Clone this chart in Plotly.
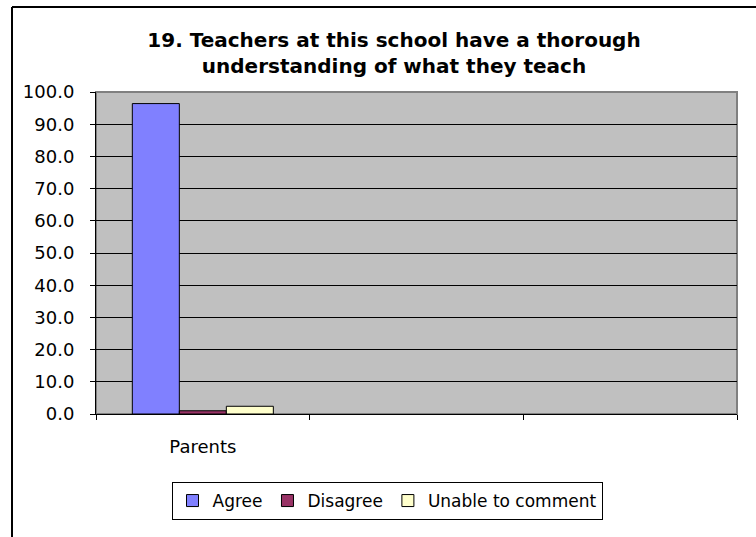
import plotly.graph_objects as go

categories = ["Parents", " ", "  "]
series_names = ["Agree", "Disagree", "Unable to comment"]
agree = [96.4, None, None]
disagree = [1.0, None, None]
unable = [2.4, None, None]
colors = ["#8080FF", "#993366", "#FFFFCC"]
y_ticks = [0, 10, 20, 30, 40, 50, 60, 70, 80, 90, 100]

fig = go.Figure()
for name, vals, col in zip(series_names, [agree, disagree, unable], colors):
    fig.add_trace(go.Bar(
        x=categories,
        y=vals,
        name=name,
        marker=dict(color=col, line=dict(color="black", width=1)),
    ))

font = "DejaVu Sans, sans-serif"

fig.update_layout(
    width=756,
    height=537,
    margin=dict(l=96, r=19, t=92, b=123),
    paper_bgcolor="white",
    plot_bgcolor="#C0C0C0",
    font=dict(family=font, size=17, color="black"),
    barmode="group",
    bargap=0.34,
    bargroupgap=0,
    title=dict(
        text="<b>19. Teachers at this school have a thorough<br>understanding of what they teach</b>",
        x=394 / 756,
        xanchor="center",
        y=1 - 47 / 537,
        yanchor="middle",
        font=dict(family=font, size=20, color="black"),
    ),
    showlegend=True,
    legend=dict(
        orientation="h",
        x=(387 - 96) / 641,
        xanchor="center",
        y=(414 - 501) / 322,
        yanchor="middle",
        bordercolor="black",
        borderwidth=1,
        bgcolor="white",
        font=dict(family=font, size=17),
        itemwidth=30,
    ),
    xaxis=dict(
        type="category",
        tickson="boundaries",
        ticks="outside",
        ticklen=5,
        tickcolor="black",
        showline=True,
        linecolor="black",
        linewidth=1,
        showgrid=False,
        ticklabelstandoff=16,
        tickfont=dict(size=18),
    ),
    yaxis=dict(
        range=[0, 100],
        tickvals=y_ticks,
        tickformat=".1f",
        ticks="outside",
        ticklen=5,
        tickcolor="black",
        showline=True,
        linecolor="black",
        linewidth=1,
        showgrid=True,
        gridcolor="black",
        gridwidth=1,
        zeroline=False,
        ticklabelstandoff=12,
        tickfont=dict(size=18),
    ),
    shapes=[
        dict(type="rect", xref="paper", yref="paper", x0=0, x1=1, y0=0, y1=1,
             line=dict(color="#808080", width=2), layer="below"),
        dict(type="line", xref="paper", yref="paper",
             x0=(12 - 96) / 641, x1=(12 - 96) / 641, y0=-0.5, y1=(414 - 7) / 322,
             line=dict(color="black", width=2)),
        dict(type="line", xref="paper", yref="paper",
             x0=(12 - 96) / 641, x1=1.2, y0=(414 - 7) / 322, y1=(414 - 7) / 322,
             line=dict(color="black", width=2)),
    ],
)

fig.write_html("out.html", config={"displayModeBar": False},
               post_script="document.body.style.margin='0px';")
